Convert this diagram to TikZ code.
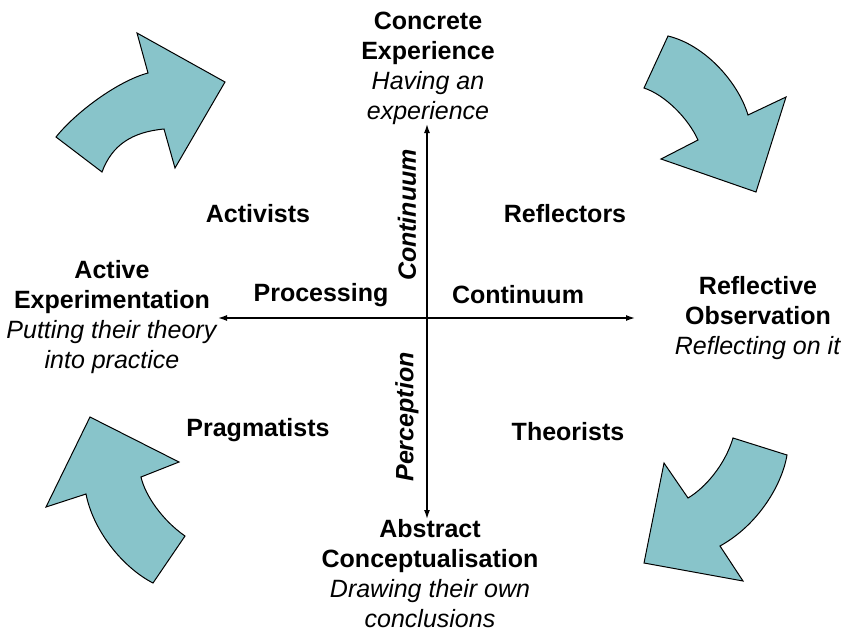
\documentclass[tikz,border=0pt]{standalone}
\usepackage{fontspec}
\setmainfont{Liberation Sans}
\usepackage{tikz}
\usetikzlibrary{arrows.meta}
\usetikzlibrary{positioning}
\usepackage{xcolor}
\definecolor{tikz-cycle}{HTML}{88C4CA}
\tikzset{x=1pt, y=-1pt, every text node part/.style={align=center}}
\tikzstyle{pole} = [inner sep=0pt, font={\fontsize{25}{30}\selectfont}]
\tikzstyle{learner} = [inner sep=0pt, font={\fontsize{25}{30}\selectfont\bfseries}]
\tikzstyle{ax} = [draw, line width=1.4pt, {Latex[length=9pt,width=6pt]}-{Latex[length=9pt,width=6pt]}]
\tikzstyle{turn} = [draw=black, line width=1pt, fill=tikz-cycle, line join=miter]

\begin{document}
\begin{tikzpicture}
      \useasboundingbox (0,0) rectangle (845,630);
      % the four stages
      \node[pole] (ce) at (428,68) {\textbf{Concrete}\\ \textbf{Experience}\\ \textit{Having an}\\ \textit{experience}};
      \node[pole] (ro) at (758,318) {\textbf{Reflective}\\ \textbf{Observation}\\ \textit{Reflecting on it}};
      \node[pole] (ac) at (430,574) {\textbf{Abstract}\\ \textbf{Conceptualisation}\\ \textit{Drawing their own}\\ \textit{conclusions}};
      \node[pole] (ae) at (112,317) {\textbf{Active}\\ \textbf{Experimentation}\\ \textit{Putting their theory}\\ \textit{into practice}};
      % learning styles
      \node[learner] (act) at (258,214) {Activists};
      \node[learner] (ref) at (565,214) {Reflectors};
      \node[learner] (pra) at (258,430) {Pragmatists};
      \node[learner] (the) at (568,432) {Theorists};
      % axes
      \coordinate (top) at (427,124);
      \coordinate (bot) at (427,519);
      \coordinate (lft) at (218,318);
      \coordinate (rgt) at (635,318);
      \path[ax] (bot) -- (top);
      \path[ax] (lft) -- (rgt);
      \node[learner] (proc) at (321,295) {Processing};
      \node[learner] (pcon) at (518,295) {Continuum};
      \node[learner, rotate=90] (vcon) at (407,215) {\itshape Continuum};
      \node[learner, rotate=90] (perc) at (407,417) {\itshape Perception};
      % curved arrows
      \draw[turn] (56,137) -- (102,172) .. controls (112,145) and (132,132) .. (164,129)
        -- (175,168) -- (225,82) -- (137,33) -- (148,73)
        .. controls (118,81) and (76,112) .. cycle;
      \draw[turn] (668,36) -- (644,88) .. controls (665,95) and (688,118) .. (698,140)
        -- (661,159) -- (756,192) -- (786,97) -- (748,115)
        .. controls (738,82) and (705,45) .. cycle;
      \draw[turn] (185,536) -- (153,583) .. controls (122,567) and (93,530) .. (86,494)
        -- (46,507) -- (90,417) -- (179,462) -- (141,477)
        .. controls (145,495) and (162,520) .. cycle;
      \draw[turn] (733,438) -- (787,455) .. controls (782,485) and (758,525) .. (720,546)
        -- (743,581) -- (644,563) -- (664,463) -- (688,498)
        .. controls (705,488) and (725,465) .. cycle;
\end{tikzpicture}
\end{document}
